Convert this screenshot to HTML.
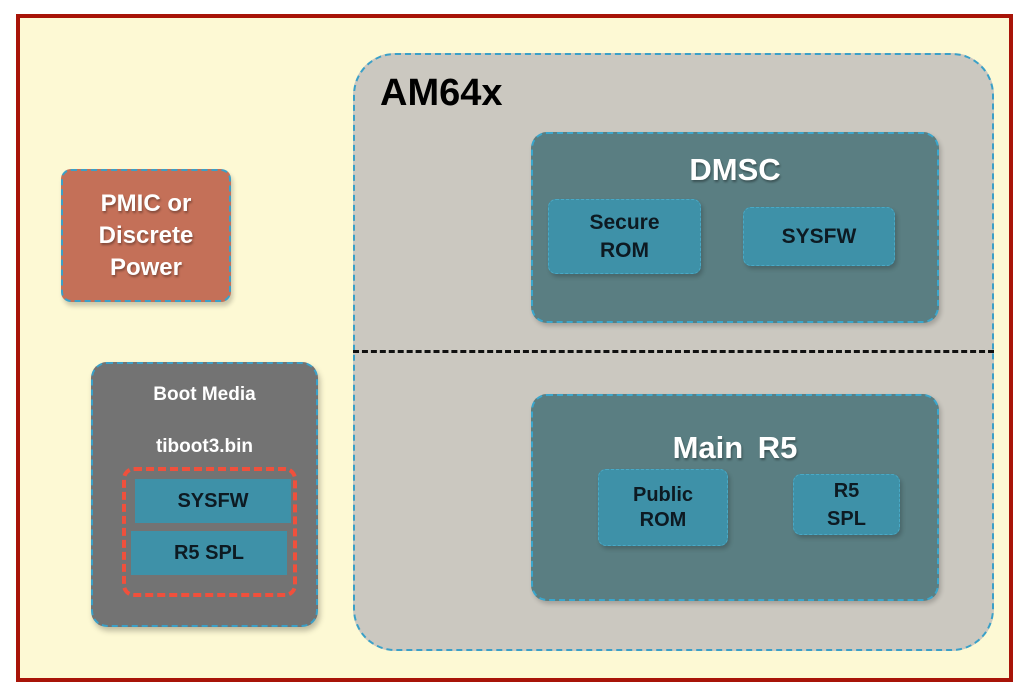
<!DOCTYPE html>
<html><head><meta charset="utf-8"><style>
*{margin:0;padding:0;box-sizing:border-box}
body{width:1029px;height:698px;background:#fff;position:relative;overflow:hidden;font-family:"Liberation Sans",Arial,sans-serif;font-weight:bold}
div{position:absolute}
.c{display:flex;align-items:center;justify-content:center;text-align:center}
.blue{background:#3e91a8;border:1.5px dashed #49a9c6;border-radius:8px;color:#0d1a22;font-size:21px;line-height:28px;box-shadow:2px 3px 4px rgba(0,0,0,.2)}
.teal{background:#5a7e82;border:2px dashed #3aa6cc;border-radius:16px;box-shadow:2px 3px 5px rgba(0,0,0,.2)}
.wt{color:#fff;text-shadow:1px 2px 2px rgba(0,0,0,.35)}
</style></head><body>
<div style="left:16px;top:14px;width:997px;height:668px;border:4px solid #a81408;background:#fdf9d4"></div>
<div style="left:353px;top:53px;width:641px;height:598px;background:#cbc8c0;border:2px dashed #3aa0c8;border-radius:42px"></div>
<div style="left:380px;top:72px;font-size:38px;color:#000">AM64x</div>
<div style="left:353px;top:350px;width:641px;height:0;border-top:3px dashed #111"></div>
<div class="teal" style="left:531px;top:132px;width:408px;height:191px"></div>
<div class="wt" style="left:531px;top:152px;width:408px;text-align:center;font-size:31px">DMSC</div>
<div class="blue c" style="left:548px;top:199px;width:153px;height:75px">Secure<br>ROM</div>
<div class="blue c" style="left:743px;top:207px;width:152px;height:59px">SYSFW</div>
<div class="teal" style="left:531px;top:394px;width:408px;height:207px"></div>
<div class="wt" style="left:531px;top:430px;width:408px;text-align:center;font-size:31px;word-spacing:6px">Main R5</div>
<div class="blue c" style="left:598px;top:469px;width:130px;height:77px;font-size:20px;line-height:25px">Public<br>ROM</div>
<div class="blue c" style="left:793px;top:474px;width:107px;height:61px;font-size:20px;line-height:28px">R5<br>SPL</div>
<div class="c wt" style="left:61px;top:169px;width:170px;height:133px;background:#c47058;border:2px dashed #3aa0c8;border-radius:10px;font-size:24px;line-height:32px;box-shadow:2px 4px 5px rgba(0,0,0,.2)">PMIC or<br>Discrete<br>Power</div>
<div style="left:91px;top:362px;width:227px;height:265px;background:#737373;border:2px dashed #3aa0c8;border-radius:16px;box-shadow:2px 4px 6px rgba(0,0,0,.25)"></div>
<div style="left:91px;top:384px;width:227px;text-align:center;color:#fff;font-size:19px">Boot Media</div>
<div style="left:91px;top:436px;width:227px;text-align:center;color:#fff;font-size:19px">tiboot3.bin</div>
<div style="left:122px;top:467px;width:175px;height:130px;border:4px dashed #f0503c;border-radius:12px"></div>
<div class="c" style="left:135px;top:479px;width:156px;height:44px;background:#3e91a8;color:#0d1a22;font-size:20px">SYSFW</div>
<div class="c" style="left:131px;top:531px;width:156px;height:44px;background:#3e91a8;color:#0d1a22;font-size:20px">R5 SPL</div>
</body></html>
